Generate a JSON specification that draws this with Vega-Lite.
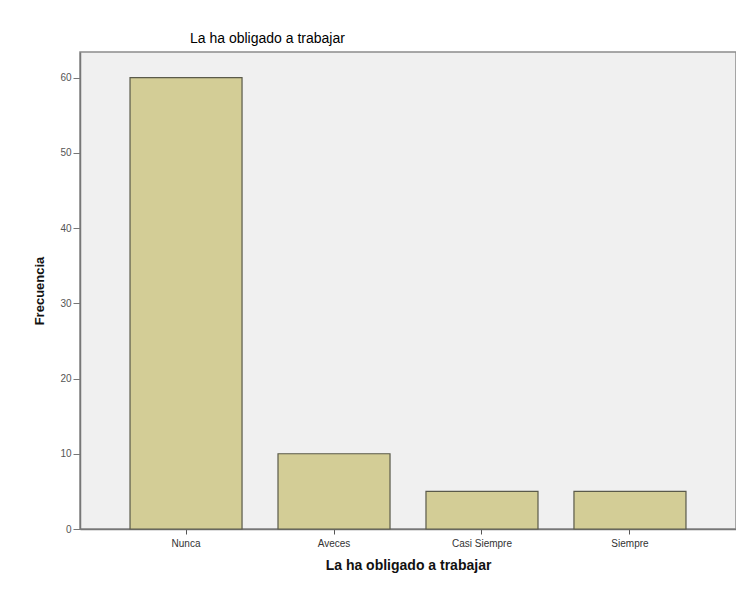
{
  "$schema": "https://vega.github.io/schema/vega-lite/v6.json",
  "autosize": "none",
  "width": 656,
  "height": 477,
  "padding": {"left": 80, "top": 52, "right": 0, "bottom": 67},
  "background": "white",
  "config": {
    "font": "Liberation Sans",
    "view": {"fill": "#f0f0f0", "stroke": "#8c8c8c", "strokeWidth": 1.5}
  },
  "title": {
    "text": "La ha obligado a trabajar",
    "anchor": "start",
    "frame": "group",
    "dx": 110,
    "offset": 6,
    "fontSize": 14,
    "fontWeight": "normal",
    "color": "#000"
  },
  "data": {
    "values": [
      {"categoria": "Nunca", "frecuencia": 60},
      {"categoria": "Aveces", "frecuencia": 10},
      {"categoria": "Casi Siempre", "frecuencia": 5},
      {"categoria": "Siempre", "frecuencia": 5}
    ]
  },
  "mark": {"type": "bar", "fill": "#d3cd96", "stroke": "#5a5a4a", "strokeWidth": 1.2},
  "encoding": {
    "x": {
      "field": "categoria",
      "type": "nominal",
      "sort": null,
      "scale": {"paddingInner": 0.243, "paddingOuter": 0.338},
      "axis": {
        "title": "La ha obligado a trabajar",
        "titleFontSize": 14,
        "titleFontWeight": "bold",
        "titleColor": "#111",
        "titlePadding": 10,
        "labelAngle": 0,
        "labelFontSize": 10,
        "labelColor": "#333",
        "labelPadding": 4,
        "domainColor": "#777",
        "domainWidth": 1.5,
        "tickColor": "#555",
        "tickSize": 5,
        "grid": false
      }
    },
    "y": {
      "field": "frecuencia",
      "type": "quantitative",
      "scale": {"domain": [0, 63.4], "nice": false},
      "axis": {
        "title": "Frecuencia",
        "titleFontSize": 13,
        "titleFontWeight": "bold",
        "titleColor": "#111",
        "titlePadding": 13,
        "values": [0, 10, 20, 30, 40, 50, 60],
        "labelFontSize": 10,
        "labelColor": "#555",
        "labelPadding": 2,
        "domainColor": "#777",
        "domainWidth": 1.5,
        "tickColor": "#777",
        "tickSize": 7,
        "grid": false
      }
    }
  }
}
